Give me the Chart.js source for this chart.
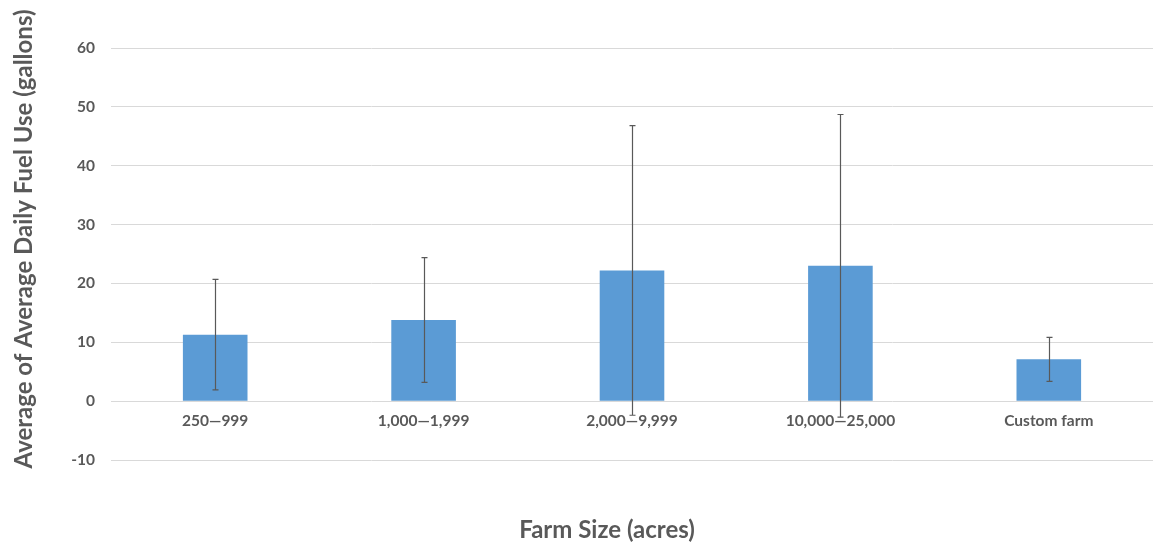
<!DOCTYPE html>
<html>
<head>
<meta charset="utf-8">
<script src="https://cdn.jsdelivr.net/npm/chart.js@4/dist/chart.umd.min.js"></script>
<style>
  html, body { margin: 0; padding: 0; background: #fff; }
  #wrap { width: 1153px; height: 553px; }
</style>
</head>
<body>
<div id="wrap"><canvas id="grafico"></canvas></div>
<script>
const categorias = ['250\u2014999', '1,000\u20141,999', '2,000\u20149,999', '10,000\u201425,000', 'Custom farm'];
const mediaCombustivel = [11.3, 13.8, 22.2, 23.0, 7.1];
const erroCombustivel = [9.4, 10.6, 24.6, 25.7, 3.75];
const ticksY = [-10, 0, 10, 20, 30, 40, 50, 60];
const tituloX = 'Farm Size (acres)';
const tituloY = 'Average of Average Daily Fuel Use (gallons)';

const corTexto = '#595959';
const fonte = 'Lato, "Open Sans", sans-serif';

// barras de erro desenhadas pela escala do proprio grafico
const barrasErro = {
    id: 'barrasErro',
    afterDatasetsDraw(chart) {
        const ctx = chart.ctx;
        const meta = chart.getDatasetMeta(0);
        const y = chart.scales.y;
        ctx.save();
        ctx.strokeStyle = '#595959';
        ctx.lineWidth = 1.2;
        meta.data.forEach((bar, i) => {
            const topo = y.getPixelForValue(mediaCombustivel[i] + erroCombustivel[i]);
            const base = y.getPixelForValue(mediaCombustivel[i] - erroCombustivel[i]);
            const x = Math.round(bar.x) + 0.5;
            ctx.beginPath();
            ctx.moveTo(x, topo);
            ctx.lineTo(x, base);
            ctx.moveTo(x - 3, topo);
            ctx.lineTo(x + 3, topo);
            ctx.moveTo(x - 3, base);
            ctx.lineTo(x + 3, base);
            ctx.stroke();
        });
        ctx.restore();
    }
};

// titulos dos eixos no lugar em que aparecem no original
const titulosEixos = {
    id: 'titulosEixos',
    afterDraw(chart) {
        const ctx = chart.ctx;
        ctx.save();
        ctx.fillStyle = corTexto;
        ctx.font = 'bold 24px ' + fonte;
        ctx.textAlign = 'center';
        ctx.textBaseline = 'middle';
        ctx.fillText(tituloX, 607, 530);
        ctx.translate(24, 239);
        ctx.rotate(-Math.PI / 2);
        ctx.fillText(tituloY, 0, 0);
        ctx.restore();
    }
};

new Chart(document.getElementById('grafico'), {
    type: 'bar',
    data: {
        labels: categorias,
        datasets: [{
            data: mediaCombustivel,
            backgroundColor: '#5b9bd5',
            borderWidth: 0,
            barPercentage: 0.31,
            categoryPercentage: 1
        }]
    },
    options: {
        responsive: true,
        maintainAspectRatio: false,
        animation: false,
        layout: { padding: { top: 48, right: 0, left: 0, bottom: 93 } },
        plugins: {
            legend: { display: false },
            tooltip: { enabled: false },
            title: { display: false }
        },
        scales: {
            x: {
                position: { y: 0 },
                grid: { display: false, drawTicks: false },
                border: { display: false },
                ticks: {
                    color: corTexto,
                    font: { family: fonte, size: 15.5, weight: 'bold' },
                    padding: 11,
                    maxRotation: 0
                }
            },
            y: {
                min: ticksY[0],
                max: ticksY[ticksY.length - 1],
                afterBuildTicks: (scale) => { scale.ticks = ticksY.map(v => ({ value: v })); },
                afterFit: (scale) => { scale.width = 111; },
                grid: { color: '#d9d9d9', drawTicks: false, lineWidth: 1 },
                border: { display: false },
                ticks: {
                    color: corTexto,
                    font: { family: fonte, size: 15.5, weight: 'bold' },
                    padding: 16
                }
            }
        }
    },
    plugins: [barrasErro, titulosEixos]
});
</script>
</body>
</html>
